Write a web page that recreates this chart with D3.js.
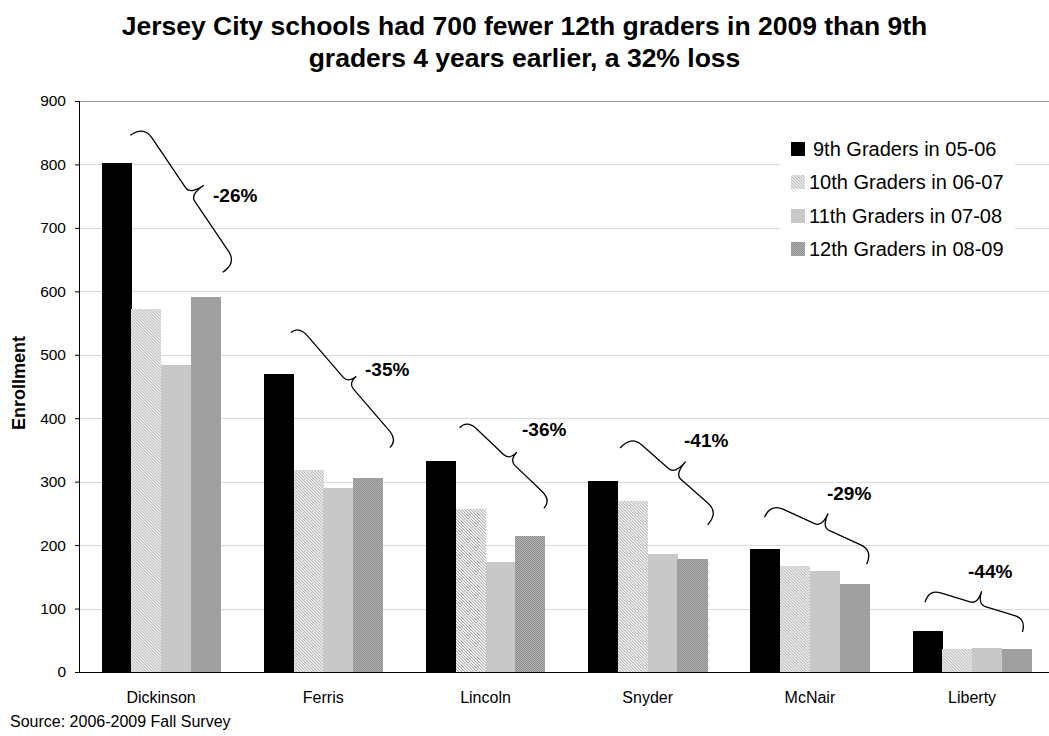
<!DOCTYPE html>
<html>
<head>
<meta charset="utf-8">
<script src="https://cdn.jsdelivr.net/npm/d3@7"></script>
<style>
  body { margin: 0; background: #fff; }
  svg { display: block; font-family: "Liberation Sans", Arial, sans-serif; }
</style>
</head>
<body>
<div id="chart"></div>
<script>
// Chart data
const schools = ['Dickinson', 'Ferris', 'Lincoln', 'Snyder', 'McNair', 'Liberty'];
const seriesNames = ['9th Graders in 05-06', '10th Graders in 06-07', '11th Graders in 07-08', '12th Graders in 08-09'];
const grade9 = [803, 469, 332, 301, 194, 64];
const grade10 = [572, 318, 257, 269, 167, 36];
const grade11 = [484, 290, 173, 186, 159, 38];
const grade12 = [591, 305, 214, 178, 138, 36];
const lossLabels = ['-26%', '-35%', '-36%', '-41%', '-29%', '-44%'];
const yTicks = [0, 100, 200, 300, 400, 500, 600, 700, 800, 900];

const seriesValues = [grade9, grade10, grade11, grade12];

const width = 1049;
const height = 736;
const margin = { top: 101, right: -4, bottom: 64, left: 80 };

const svg = d3.select('#chart')
  .append('svg')
  .attr('width', width)
  .attr('height', height);

// Patterns for the bar fills
const defs = svg.append('defs');

// diagonal hatch, 3px period, stripes going down to the right
const hatch = defs.append('pattern')
  .attr('id', 'hatch')
  .attr('patternUnits', 'userSpaceOnUse')
  .attr('width', 3)
  .attr('height', 3);
hatch.append('rect').attr('width', 3).attr('height', 3).attr('fill', '#fff');
[0, 1, 2].forEach(i => {
  hatch.append('rect')
    .attr('x', i).attr('y', i)
    .attr('width', 1).attr('height', 1)
    .attr('fill', '#b0b0b0');
  hatch.append('rect')
    .attr('x', (i + 1) % 3).attr('y', i)
    .attr('width', 1).attr('height', 1)
    .attr('fill', '#dadada');
});

const dots = defs.append('pattern')
  .attr('id', 'dots')
  .attr('patternUnits', 'userSpaceOnUse')
  .attr('width', 2)
  .attr('height', 2);
dots.append('rect').attr('width', 2).attr('height', 2).attr('fill', '#b4b4b4');
dots.append('rect').attr('x', 0).attr('y', 0).attr('width', 1).attr('height', 1).attr('fill', '#8a8a8a');
dots.append('rect').attr('x', 1).attr('y', 1).attr('width', 1).attr('height', 1).attr('fill', '#8a8a8a');

const fills = ['#000000', 'url(#hatch)', '#c8c8c8', 'url(#dots)'];

// Scales
const x0 = d3.scaleBand()
  .domain(schools)
  .range([margin.left, margin.left + 6 * 162.2])
  .paddingInner(0.266)
  .paddingOuter(0.133);

const x1 = d3.scaleBand()
  .domain(d3.range(seriesNames.length))
  .range([0, x0.bandwidth()]);

const y = d3.scaleLinear()
  .domain([0, 900])
  .range([height - margin.bottom, margin.top]);

// Gridlines
svg.append('g')
  .selectAll('line')
  .data(yTicks.filter(d => d > 0))
  .enter().append('line')
  .attr('x1', margin.left)
  .attr('x2', width)
  .attr('y1', d => Math.round(y(d)) + 0.5)
  .attr('y2', d => Math.round(y(d)) + 0.5)
  .attr('stroke', d => d === 900 ? '#9a9a9a' : '#d9d9d9')
  .attr('stroke-width', 1);

// Bars
const groups = svg.append('g')
  .selectAll('g')
  .data(schools)
  .enter().append('g')
  .attr('transform', d => `translate(${x0(d)},0)`);

groups.selectAll('rect')
  .data((d, i) => seriesValues.map((vals, s) => ({ s, value: vals[i] })))
  .enter().append('rect')
  .attr('x', d => x1(d.s))
  .attr('y', d => y(d.value))
  .attr('width', x1.bandwidth() + 0.3)
  .attr('height', d => y(0) - y(d.value))
  .attr('fill', d => fills[d.s])
  .attr('shape-rendering', 'crispEdges');

// Y axis
const yAxis = svg.append('g')
  .attr('transform', `translate(${margin.left},0)`)
  .call(d3.axisLeft(y).tickValues(yTicks).tickSize(5).tickPadding(9));
yAxis.select('.domain').attr('stroke', '#000').attr('d', `M-0.5,${y(900)}V${y(0)}`);
yAxis.selectAll('.tick line').attr('stroke', '#000');
yAxis.selectAll('.tick text')
  .attr('font-size', 15.5)
  .attr('font-family', '"Liberation Sans", Arial, sans-serif')
  .attr('fill', '#000');

// X axis line
svg.append('line')
  .attr('x1', margin.left - 5)
  .attr('x2', width)
  .attr('y1', Math.round(y(0)) + 0.5)
  .attr('y2', Math.round(y(0)) + 0.5)
  .attr('stroke', '#000');

// Category labels
svg.append('g')
  .selectAll('text')
  .data(schools)
  .enter().append('text')
  .attr('x', d => x0(d) + x0.bandwidth() / 2)
  .attr('y', 703)
  .attr('text-anchor', 'middle')
  .attr('font-size', 16)
  .text(d => d);

// Braces showing the loss from 9th to 12th grade
// [fraction of band, value] for start and end of each brace, brace depth in px
const braceStart = [[0.31, 846], [0.30, 535], [0.34, 385], [0.33, 353], [0.22, 244], [0.21, 110]];
const braceEnd = [[0.88, 630], [0.91, 354], [0.86, 258], [0.87, 232], [0.85, 170], [0.81, 63]];
const braceDepth = [33, 21, 22, 33, 30, 27];
const labelPos = [[0.82, 741], [0.757, 467], [0.725, 372], [0.724, 355], [0.605, 271], [0.475, 148]];

const step = x0.step();
const bandStart = i => margin.left + i * step;

function bracePath(p0, p1, w) {
  const dx = p1[0] - p0[0];
  const dy = p1[1] - p0[1];
  const L = Math.hypot(dx, dy);
  const ux = dx / L, uy = dy / L;
  const px = uy, py = -ux;
  const P = (u, v) => `${p0[0] + u * ux + v * px},${p0[1] + u * uy + v * py}`;
  const h = w / 2;
  const a = Math.min(14, L * 0.12);
  const b = 8;
  return `M${P(0, 0)} Q${P(0, h)} ${P(a, h)} L${P(L / 2 - b, h)} Q${P(L / 2, h)} ${P(L / 2, w)}` +
    ` Q${P(L / 2, h)} ${P(L / 2 + b, h)} L${P(L - a, h)} Q${P(L, h)} ${P(L, 0)}`;
}

const braces = svg.append('g');
schools.forEach((s, i) => {
  const p0 = [bandStart(i) + braceStart[i][0] * step, y(braceStart[i][1])];
  const p1 = [bandStart(i) + braceEnd[i][0] * step, y(braceEnd[i][1])];
  braces.append('path')
    .attr('d', bracePath(p0, p1, braceDepth[i]))
    .attr('fill', 'none')
    .attr('stroke', '#000')
    .attr('stroke-width', 1.3);

  braces.append('text')
    .attr('x', bandStart(i) + labelPos[i][0] * step)
    .attr('y', y(labelPos[i][1]))
    .attr('font-size', 19)
    .attr('font-weight', 'bold')
    .text(lossLabels[i]);
});

// Legend
const legend = svg.append('g');
legend.append('rect')
  .attr('x', 780)
  .attr('y', 128)
  .attr('width', 235)
  .attr('height', 140)
  .attr('fill', '#fff');

const legendRows = legend.selectAll('g')
  .data(seriesNames)
  .enter().append('g')
  .attr('transform', (d, i) => `translate(791, ${149 + i * 33.3})`);

legendRows.append('rect')
  .attr('x', 0)
  .attr('y', -7)
  .attr('width', 14)
  .attr('height', 14)
  .attr('fill', (d, i) => fills[i])
  .attr('shape-rendering', 'crispEdges');

legendRows.append('text')
  .attr('x', (d, i) => i === 0 ? 22 : 18)
  .attr('y', 7)
  .attr('font-size', 20)
  .text(d => d);

// Title
const title = svg.append('text')
  .attr('text-anchor', 'middle')
  .attr('font-size', 26.5)
  .attr('font-weight', 'bold');
title.append('tspan').attr('x', 524.5).attr('y', 35)
  .text('Jersey City schools had 700 fewer 12th graders in 2009 than 9th');
title.append('tspan').attr('x', 524.5).attr('y', 67)
  .text('graders 4 years earlier, a 32% loss');

// Y axis title
svg.append('text')
  .attr('transform', 'translate(25, 383) rotate(-90)')
  .attr('text-anchor', 'middle')
  .attr('font-size', 18)
  .attr('font-weight', 'bold')
  .text('Enrollment');

// Source note
svg.append('text')
  .attr('x', 10)
  .attr('y', 727)
  .attr('font-size', 16)
  .text('Source: 2006-2009 Fall Survey');
</script>
</body>
</html>
